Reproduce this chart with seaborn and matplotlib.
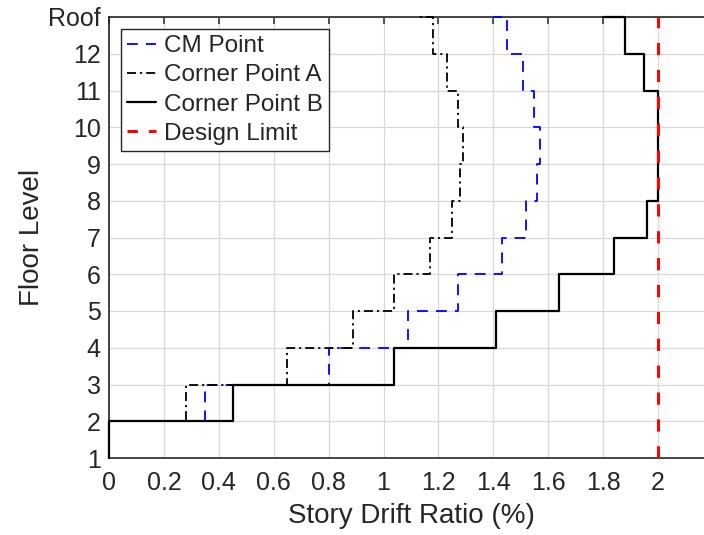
import matplotlib
matplotlib.use("Agg")
import matplotlib.pyplot as plt
from matplotlib.lines import Line2D
import seaborn as sns
import pandas as pd

# ---- data ----
floors = list(range(1, 14))
floor_labels = [str(i) for i in range(1, 13)] + ["Roof"]
cm_point = [0.00, 0.35, 0.80, 1.09, 1.27, 1.43, 1.52, 1.56, 1.57, 1.55, 1.51, 1.45, 1.40]
corner_a = [0.00, 0.28, 0.65, 0.89, 1.04, 1.17, 1.25, 1.28, 1.29, 1.27, 1.23, 1.18, 1.13]
corner_b = [0.00, 0.45, 1.04, 1.41, 1.64, 1.84, 1.96, 2.00, 2.00, 2.00, 1.95, 1.88, 1.80]
design_limit = 2.0
x_ticks = [0, 0.2, 0.4, 0.6, 0.8, 1.0, 1.2, 1.4, 1.6, 1.8, 2.0]
x_tick_labels = ["0", "0.2", "0.4", "0.6", "0.8", "1", "1.2", "1.4", "1.6", "1.8", "2"]
series_names = ["CM Point", "Corner Point A", "Corner Point B", "Design Limit"]

sns.set_theme(style="white")
plt.rcParams["font.family"] = ["Liberation Sans", "DejaVu Sans"]

fig = plt.figure(figsize=(7.04, 5.35), dpi=100)
ax = fig.add_axes([109 / 704, 77 / 535, 2.2 * 274.5 / 704, 441 / 535])

df_cm = pd.DataFrame({"drift": cm_point, "floor": floors})
df_a = pd.DataFrame({"drift": corner_a, "floor": floors})
df_b = pd.DataFrame({"drift": corner_b, "floor": floors})

sns.lineplot(data=df_cm, x="drift", y="floor", sort=False, estimator=None, ax=ax,
             drawstyle="steps-pre", color="#0000ff", lw=1.3,
             linestyle=(0, (6, 4.5)), clip_on=False, zorder=3)
sns.lineplot(data=df_a, x="drift", y="floor", sort=False, estimator=None, ax=ax,
             drawstyle="steps-pre", color="black", lw=1.3,
             linestyle=(0, (5, 2.2, 1.2, 2.2)), clip_on=False, zorder=3)
sns.lineplot(data=df_b, x="drift", y="floor", sort=False, estimator=None, ax=ax,
             drawstyle="steps-pre", color="black", lw=1.6, clip_on=False, zorder=3)
ax.axvline(design_limit, color="#ff0000", lw=2.2, linestyle=(0, (4, 4.8)), zorder=4)

lines = ax.get_lines()
red_proxy = Line2D([], [], color="#ff0000", lw=2.2, linestyle=(0, (3.4, 3.6)))
handles = [lines[0], lines[1], lines[2], red_proxy]
leg = ax.legend(handles, series_names, loc="upper left",
                bbox_to_anchor=(0.0194, 0.9728), borderaxespad=0, fontsize=17.5,
                frameon=True, fancybox=False, framealpha=1, edgecolor="#262626",
                handlelength=1.2, handletextpad=0.35, labelspacing=0.3,
                borderpad=0.25)
leg.get_frame().set_linewidth(1.0)

ax.set_xlim(0, 2.2)
ax.set_ylim(1, 13)
ax.set_xticks(x_ticks)
ax.set_xticklabels(x_tick_labels)
ax.set_yticks(floors)
ax.set_yticklabels(floor_labels)

ax.grid(True, color="#d8d8d8", lw=0.9)
ax.set_axisbelow(True)
for s in ax.spines.values():
    s.set_color("#262626")
    s.set_linewidth(1.2)
ax.tick_params(direction="in", length=5, width=1.1, top=True, right=True,
               labelsize=18, colors="#262626")
ax.tick_params(axis="x", pad=9)
ax.tick_params(axis="y", pad=6)

ax.set_xlabel("Story Drift Ratio (%)", fontsize=20, color="#262626", labelpad=6)
ax.set_ylabel("Floor Level", fontsize=20, color="#262626", labelpad=2)

fig.savefig("out.png", dpi=100)
